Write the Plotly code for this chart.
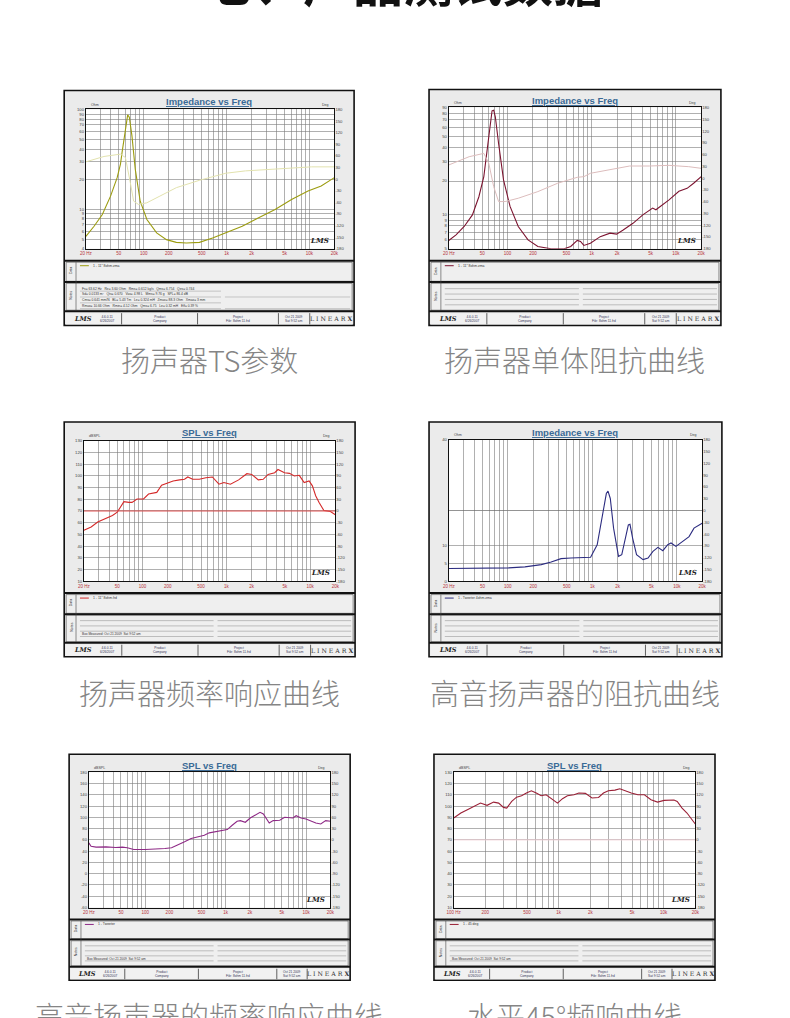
import math
import plotly.graph_objects as go

W, H = 790, 1018

# ---------------- data ----------------
# Panel 1: woofer impedance (TS parameters)
p1_freq = [20, 25.1, 31.6, 39.7, 47.7, 52.3, 54.7, 60, 63.9, 66.9, 71.9, 78.9, 84.1, 90.5, 109, 143,
           188, 247, 326, 470, 677, 976, 1543, 2437, 3850, 6082, 9610, 13860, 20000]
p1_ohm = [5.33, 6.73, 8.83, 13.5, 20.7, 28.3, 37.1, 63.8, 88.3, 83.7, 54.6, 25.2, 17.1, 12.0, 7.87, 5.77,
          4.94, 4.64, 4.57, 4.64, 5.13, 5.77, 6.73, 8.18, 9.93, 12.5, 15.2, 17.1, 20.7]
p1_ph_freq = [20, 33.1, 52.3, 60, 68.8, 75.4, 86.4, 108.7, 156.7, 247, 470, 976, 1690, 3207, 6082, 10530, 20000]
p1_phase = [44.7, 58.6, 64.6, 56.0, -9.1, -56.8, -65.5, -61.2, -43.8, -22.1, -3.0, 15.2, 21.3, 25.6, 29.9, 31.7, 31.7]

# Panel 2: driver impedance
p2_freq = [20, 24.4, 30.5, 38.2, 45.6, 52.2, 59.8, 65.4, 68.4, 71.5, 78.2, 89.5, 107, 134, 175, 229, 329, 470,
           563, 673, 736, 806, 964, 1262, 1652, 1975, 2364, 3092, 4047, 4842, 5297, 5793, 6934, 8297, 10870,
           13600, 16260, 20000]
p2_ohm = [5.93, 6.65, 7.89, 10.0, 14.5, 21.9, 49.5, 84.1, 85.2, 74.4, 43.1, 20.5, 11.9, 7.89, 6.0, 5.24, 5.0, 5.0,
          5.24, 5.93, 5.81, 5.35, 5.6, 6.41, 6.89, 6.75, 7.35, 8.42, 10.0, 11.1, 11.5, 11.1, 12.3, 13.6, 16.2,
          17.2, 19.1, 21.9]
p2_ph_freq = [20, 34.9, 52.2, 59.8, 68.4, 78.2, 93.6, 134, 229, 393, 673, 806, 964, 1652, 2826, 4842, 8297, 14210, 20000]
p2_phase = [33.5, 54.6, 63.1, 37.7, -21.6, -59.7, -59.7, -51.2, -34.3, -13.1, 2.1, 3.8, 12.3, 22.4, 30.9, 30.9, 32.6, 29.2, 25.0]

# Panel 3: driver SPL
p3_freq = [20, 24.4, 29.2, 35, 43.8, 50, 60, 68.7, 75, 86, 103, 118, 135, 148, 169, 193, 232, 277, 317, 347, 397,
           476, 570, 682, 817, 935, 1120, 1403, 1758, 2010, 2408, 2754, 3154, 3776, 4132, 4946, 5664, 6486, 7418,
           8492, 9720, 10640, 11640, 12740, 14590, 17460, 20000]
p3_spl = [53.6, 56.4, 60.6, 63.4, 66.2, 69.0, 78.0, 77.4, 77.4, 80.3, 80.3, 84.5, 85.3, 85.9, 92.1, 93.5, 95.7,
          96.6, 97.1, 99.1, 97.1, 97.1, 98.5, 99.1, 92.9, 94.3, 92.9, 96.6, 101.9, 101.3, 96.6, 97.1, 101.3, 102.7,
          105.5, 102.7, 102.2, 99.9, 100.5, 94.3, 95.7, 91.5, 83.1, 77.4, 70.4, 69.6, 66.8]
p3_ph_freq = [20, 20000]
p3_phase = [0, 0]

# Panel 4: tweeter impedance
p4_freq = [20, 41.7, 102, 159.5, 249, 326, 427, 558, 798, 955, 1143, 1307, 1467, 1535, 1634, 1787, 2043, 2234,
           2443, 2672, 2795, 3001, 3342, 3990, 4571, 5227, 5981, 6843, 7822, 8553, 9783, 11700, 13990, 16000,
           18290, 20000]
p4_ohm = [3.56, 3.56, 3.75, 4.03, 4.68, 5.43, 6.37, 6.56, 6.56, 6.74, 10.3, 17.8, 24.8, 25.5, 23.4, 15.0, 7.03,
          7.49, 12.2, 15.9, 16.1, 12.2, 7.49, 6.09, 6.56, 8.43, 9.55, 8.62, 10.3, 10.8, 9.84, 11.2, 12.6, 15.0,
          15.9, 16.4]
p4_ph_freq = [20, 20000]
p4_phase = [0, 0]

# Panel 5: tweeter SPL
p5_freq = [20, 21.3, 24.6, 32.6, 43.2, 52.1, 60, 72.3, 100.3, 146, 176, 213, 256, 309, 373, 450, 543, 625, 719,
           868, 1047, 1206, 1388, 1524, 1754, 2018, 2324, 2673, 2937, 3228, 3477, 3890, 4697, 5408, 6222, 6840,
           7503, 8635, 9950, 11450, 13180, 15170, 17460, 20000]
p5_spl = [54.7, 48.8, 47.1, 47.6, 46.5, 47.1, 45.9, 42.9, 42.9, 43.5, 44.7, 45.9, 50.6, 56.5, 62.4, 64.7, 68.2,
          72.4, 74.1, 75.3, 78.2, 85.9, 92.9, 94.1, 91.2, 98.8, 103.5, 108.8, 105.9, 95.9, 90.0, 94.1, 94.7,
          100.0, 98.8, 98.8, 102.9, 98.8, 97.1, 92.9, 90.0, 88.2, 94.1, 92.9]
p5_ph_freq = [20, 20000]
p5_phase = [0, 0]

# Panel 6: horizontal 45 degree response
p6_freq = [100, 117, 135, 156, 180, 208, 240, 268, 298, 320, 357, 397, 443, 493, 549, 612, 681, 759, 876, 975,
           1087, 1211, 1398, 1557, 1797, 2075, 2396, 2669, 2973, 3434, 3822, 4258, 4918, 5679, 6555, 7568, 8736,
           10090, 12530, 13460, 14970, 16680, 18580, 20000]
p6_spl = [89.4, 93.8, 96.8, 99.7, 102.6, 100.6, 103.5, 102.6, 98.8, 98.2, 104.1, 107.9, 109.1, 111.5, 113.5,
          111.5, 109.1, 110.0, 105.6, 102.6, 106.5, 109.1, 110.0, 111.5, 111.2, 107.1, 107.6, 111.5, 113.5, 114.1,
          115.3, 113.5, 111.5, 110.0, 110.0, 105.6, 103.5, 105.0, 105.3, 104.1, 98.2, 93.8, 87.9, 84.1]
p6_ph_freq = [100, 20000]
p6_phase = [0, 0]

# tick labels
X_TICKS_20 = [20, 50, 100, 200, 500, 1000, 2000, 5000, 10000, 20000]
X_TEXT_20 = ["20 Hz", "50", "100", "200", "500", "1k", "2k", "5k", "10k", "20k"]
X_TICKS_100 = [100, 200, 500, 1000, 2000, 5000, 10000, 20000]
X_TEXT_100 = ["100 Hz", "200", "500", "1k", "2k", "5k", "10k", "20k"]
OHM_TICKS_1 = [4, 5, 6, 7, 8, 9, 10, 20, 30, 40, 50, 60, 70, 80, 90, 100]
OHM_TICKS_2 = [5, 6, 7, 8, 9, 10, 20, 30, 40, 50, 60, 70, 80, 90]
OHM_TICKS_4 = [0, 5, 10, 40]
SPL_TICKS = [10, 20, 30, 40, 50, 60, 70, 80, 90, 100, 110, 120, 130]
SPL_TICKS_5 = [-60, -40, -20, 0, 20, 40, 60, 80, 100, 120, 140, 160, 180]
DEG_TICKS = [-180, -150, -120, -90, -60, -30, 0, 30, 60, 90, 120, 150, 180]

TITLE = "七、产品测试数据"
CAPTIONS = ["扬声器TS参数", "扬声器单体阻抗曲线", "扬声器频率响应曲线",
            "高音扬声器的阻抗曲线", "高音扬声器的频率响应曲线", "水平45°频响曲线"]

# ---------------- layout helpers (positions in page pixels) ----------------
F = "Liberation Sans, Arial, sans-serif"
CJK = "Noto Sans CJK SC, sans-serif"
GRID = "#7c7c7c"
shapes, annots = [], []


def X(p):
    return p / W


def Y(p):
    return 1 - p / H


def rect(x0, y0, x1, y1, fill=None, lc=None, lw=1.0, layer="below"):
    shapes.append(dict(type="rect", xref="paper", yref="paper", x0=X(x0), x1=X(x1), y0=Y(y1), y1=Y(y0),
                       fillcolor=fill or "rgba(0,0,0,0)",
                       line=dict(color=lc or "rgba(0,0,0,0)", width=lw if lc else 0), layer=layer))


def seg(x0, y0, x1, y1, color, lw, layer="above"):
    shapes.append(dict(type="line", xref="paper", yref="paper", x0=X(x0), x1=X(x1), y0=Y(y0), y1=Y(y1),
                       line=dict(color=color, width=lw), layer=layer))


def txt(x, y, s, size, color="#222", xa="center", ya="middle", family=F, angle=0, weight=None):
    font = dict(size=size, color=color, family=family)
    if weight:
        font["weight"] = weight
    annots.append(dict(xref="paper", yref="paper", x=X(x), y=Y(y), text=s, showarrow=False,
                       xanchor=xa, yanchor=ya, textangle=angle, font=font))


def minor_vals(lo, hi, major):
    out = []
    for e in range(0, 6):
        for m in range(1, 10):
            v = m * 10 ** e
            if lo <= v <= hi and v not in major:
                out.append(v)
    return out


panels = [
    dict(frame=(58, 88, 352, 324), plot=(80, 107, 332, 247), title="Impedance vs Freq", unit="Ohm",
         f=p1_freq, v=p1_ohm, pf=p1_ph_freq, pv=p1_phase, color="#9c9c10", pcolor="#e2e2ae",
         ytype="log", yr=[math.log10(4), 2], yt=OHM_TICKS_1, xr=(20, 20000), xt=(X_TICKS_20, X_TEXT_20),
         legend="1 - 11\" 8ohm.zma", notes="text"),
    dict(frame=(428, 87, 724, 324), plot=(448, 105, 704, 247), title="Impedance vs Freq", unit="Ohm",
         f=p2_freq, v=p2_ohm, pf=p2_ph_freq, pv=p2_phase, color="#7c1430", pcolor="#dcbcbc",
         ytype="log", yr=[math.log10(5), math.log10(90)], yt=OHM_TICKS_2, xr=(20, 20000),
         xt=(X_TICKS_20, X_TEXT_20), legend="1 - 11\" 8ohm.zma", notes="lines"),
    dict(frame=(58, 421, 353, 657), plot=(78, 440, 333, 581), title="SPL vs Freq", unit="dBSPL",
         f=p3_freq, v=p3_spl, pf=p3_ph_freq, pv=p3_phase, color="#d42a2a", pcolor="#e04e4e",
         ytype="linear", yr=[10, 130], yt=SPL_TICKS, xr=(20, 20000), xt=(X_TICKS_20, X_TEXT_20),
         legend="1 - 11\" 8ohm.frd", notes="lines+text"),
    dict(frame=(428, 421, 725, 657), plot=(448, 439, 705, 581), title="Impedance vs Freq", unit="Ohm",
         f=p4_freq, v=p4_ohm, pf=p4_ph_freq, pv=p4_phase, color="#2c2c80", pcolor="rgba(0,0,0,0)",
         ytype="linear", yr=[0, 40], yt=OHM_TICKS_4, xr=(20, 20000), xt=(X_TICKS_20, X_TEXT_20),
         legend="1 - Tweeter 4ohm.zma", notes="lines", yminor=[20]),
    dict(frame=(63, 755, 348, 982), plot=(83, 773, 328, 909), title="SPL vs Freq", unit="dBSPL",
         f=p5_freq, v=p5_spl, pf=p5_ph_freq, pv=p5_phase, color="#8e2a86", pcolor="rgba(0,0,0,0)",
         ytype="linear", yr=[-60, 180], yt=SPL_TICKS_5, xr=(20, 20000), xt=(X_TICKS_20, X_TEXT_20),
         legend="1 - Tweeter", notes="lines+text"),
    dict(frame=(433, 755, 718, 982), plot=(453, 773, 698, 909), title="SPL vs Freq", unit="dBSPL",
         f=p6_freq, v=p6_spl, pf=p6_ph_freq, pv=p6_phase, color="#9a2036", pcolor="#f0d0d6",
         ytype="linear", yr=[10, 130], yt=SPL_TICKS, xr=(100, 20000), xt=(X_TICKS_100, X_TEXT_100),
         legend="1 - 45 deg", notes="lines+text"),
]

fig = go.Figure()
layout = {}

for i, p in enumerate(panels):
    k = i + 1
    fx0, fy0, fx1, fy1 = p["frame"]
    px0, py0, px1, py1 = p["plot"]
    xname = "x" if k == 1 else f"x{k}"
    xkey = "xaxis" if k == 1 else f"xaxis{k}"
    yl, yr_ = 2 * k - 1, 2 * k
    ylname = "y" if yl == 1 else f"y{yl}"
    ylkey = "yaxis" if yl == 1 else f"yaxis{yl}"
    yrname, yrkey = f"y{yr_}", f"yaxis{yr_}"

    # panel background, plot background
    rect(fx0, fy0, fx1, fy1, fill="#ebebeb", lc="#111", lw=1.6)
    rect(px0, py0, px1, py1, fill="#ffffff")

    xt, xtt = p["xt"]
    layout[xkey] = dict(type="log", range=[math.log10(p["xr"][0]), math.log10(p["xr"][1])],
                        domain=[X(px0), X(px1)], anchor=ylname, tickmode="array", tickvals=xt, ticktext=xtt,
                        tickfont=dict(size=4.5, color="#b8343c", family=F), showgrid=True, gridcolor=GRID,
                        gridwidth=0.6,
                        minor=dict(tickvals=minor_vals(p["xr"][0], p["xr"][1], xt), showgrid=True,
                                   gridcolor=GRID, gridwidth=0.6, ticks=""),
                        showline=True, linecolor="#111", linewidth=1, mirror=True, ticks="", zeroline=False,
                        fixedrange=True)
    ydict = dict(type=p["ytype"], range=p["yr"], domain=[Y(py1), Y(py0)], anchor=xname, tickmode="array",
                 tickvals=p["yt"], ticktext=[str(v) for v in p["yt"]],
                 tickfont=dict(size=4.2, color="#444", family=F), showgrid=True, gridcolor=GRID,
                 gridwidth=0.6, showline=True, linecolor="#111", linewidth=1, mirror=True, ticks="",
                 zeroline=False, fixedrange=True)
    if p.get("yminor"):
        ydict["minor"] = dict(tickvals=p["yminor"], showgrid=True, gridcolor="#666", gridwidth=0.7, ticks="")
    layout[ylkey] = ydict
    layout[yrkey] = dict(overlaying=ylname, side="right", anchor=xname, range=[-180, 180], tickmode="array",
                         tickvals=DEG_TICKS, ticktext=[str(v) for v in DEG_TICKS],
                         tickfont=dict(size=4.2, color="#444", family=F), showgrid=False, zeroline=False,
                         showline=False, ticks="", fixedrange=True)

    fig.add_trace(go.Scatter(x=p["pf"], y=p["pv"], xaxis=xname, yaxis=yrname, mode="lines",
                             line=dict(color=p["pcolor"], width=1), showlegend=False, hoverinfo="skip"))
    fig.add_trace(go.Scatter(x=p["f"], y=p["v"], xaxis=xname, yaxis=ylname, mode="lines",
                             line=dict(color=p["color"], width=1.1), showlegend=False, hoverinfo="skip"))

    cx = (fx0 + fx1) / 2
    fw = fx1 - fx0
    # title
    txt(cx, fy0 + 11, "<b><u>" + p["title"] + "</u></b>", 9.5, color="#3a6a96")
    # unit labels
    txt(px0 + 3, py0 - 0.5, p["unit"], 3.6, color="#444", xa="left", ya="bottom")
    txt(px1 - 3, py0 - 0.5, "Deg", 3.6, color="#444", xa="right", ya="bottom")
    # LMS watermark
    txt(px1 - 3, py1 - 2, "<i><b>LMS</b></i>", 7, color="#222", xa="right", ya="bottom",
        family="DejaVu Serif, serif")

    # rows below the chart
    sep = py1 + 12
    R = fy1 - sep
    d_end = sep + 0.318 * R
    n_end = sep + 0.765 * R
    f_start = sep + 0.795 * R
    lx = fx0 + 12
    seg(fx0, sep, fx1, sep, "#111", 2)
    rect(fx0 + 2, sep + 1.5, fx1 - 2, d_end, fill="#efefef", lc="#444", lw=0.6, layer="above")
    seg(fx0, d_end + 0.8, fx1, d_end + 0.8, "#111", 2)
    rect(fx0 + 2, d_end + 2, fx1 - 2, n_end, fill="#efefef", lc="#444", lw=0.6, layer="above")
    seg(fx0, (n_end + f_start) / 2, fx1, (n_end + f_start) / 2, "#111", 2)
    seg(lx, sep + 1.5, lx, n_end, "#444", 0.6)
    txt(fx0 + 7, (sep + d_end) / 2, "Data", 3.5, color="#333", angle=-90)
    txt(fx0 + 7, (d_end + n_end) / 2, "Notes", 3.5, color="#333", angle=-90)

    # legend entry
    ly = sep + 5
    seg(lx + 4, ly, lx + 13, ly, p["color"], 1)
    txt(lx + 15, ly, p["legend"], 3.4, color="#333", xa="left")

    # notes area
    ny0 = d_end + 2
    nh = n_end - ny0
    mid = (lx + fx1) / 2
    if p["notes"] == "text":
        lines = ["Fs= 63.62 Hz   Re= 3.60 Ohm   Rms= 0.612 kg/s   Qms= 6.754   Qes= 0.744",
                 "Sd= 0.0133 m²   Qts= 0.670   Vas= 4.98 L   Mms= 9.76 g   SPL= 86.4 dB",
                 "Cms= 0.641 mm/N   BL= 5.43 Tm   Le= 0.324 mH   Zmax= 88.3 Ohm   Xmax= 3 mm",
                 "Rmax= 10.66 Ohm   Rmin= 4.52 Ohm   Qms= 6.75   Le= 0.32 mH   Eff= 0.39 %"]
        for j, s in enumerate(lines):
            yy = ny0 + nh * (j + 0.9) / 4.6
            txt(lx + 4, yy, s, 3.3, color="#333", xa="left")
            seg(lx + 4, yy + 2.6, mid + 6, yy + 2.6, "#999", 0.5)
        for j in (1, 3):
            yy = ny0 + nh * (j + 0.9) / 4.6 + 2.6
            seg(mid + 10, yy, fx1 - 4, yy, "#999", 0.5)
    else:
        for j in range(4):
            yy = ny0 + nh * (j + 1) / 5
            seg(lx + 4, yy, mid - 2, yy, "#9a9a9a", 0.6)
            seg(mid + 2, yy, fx1 - 4, yy, "#9a9a9a", 0.6)
        if "text" in p["notes"]:
            txt(lx + 4, ny0 + nh * 3.55 / 5, "Box Measured: Oct 21 2009  Sat 9:52 am", 3.2, color="#333",
                xa="left")

    # footer
    fy_a, fy_b = f_start + 1, fy1 - 1
    rect(fx0 + 1.5, fy_a, fx1 - 1.5, fy_b, fill="#f1f1f1", layer="above")
    fym = (fy_a + fy_b) / 2
    divs = [0.198, 0.46, 0.739, 0.847]
    for d in divs:
        seg(fx0 + d * fw, fy_a, fx0 + d * fw, fy_b, "#222", 0.7)
    txt(fx0 + 0.065 * fw, fym, "<i><b>LMS</b></i>", 6.5, color="#222", family="DejaVu Serif, serif")
    txt(fx0 + 0.115 * fw, fym, "4.6.0.11<br>6/26/2007", 3.2, color="#335", xa="left")
    txt(fx0 + 0.33 * fw, fym, "Product<br>Company", 3.2, color="#335")
    txt(fx0 + 0.60 * fw, fym, "Project<br>File: 8ohm 11.frd", 3.2, color="#335")
    txt(fx0 + 0.793 * fw, fym, "Oct 21 2009<br>Sat 9:52 am", 3.2, color="#335")
    txt(fx0 + 0.922 * fw, fym, "L I N E A R <b>X</b>", 6.2, color="#333", family="DejaVu Serif, serif")

# captions
cap_pos = [(205, 358), (576, 358), (205, 692), (576, 692), (205, 1017), (576, 1017)]
for (cxp, cyp), s in zip(cap_pos, CAPTIONS):
    txt(cxp, cyp, s, 29, color="#858585", family=CJK, weight=300)

# top title, mostly cut off by the page edge
txt(402, -23, "<b>" + TITLE + "</b>", 50, color="#111", family=CJK)

fig.update_layout(width=W, height=H, margin=dict(l=0, r=0, t=0, b=0), paper_bgcolor="white",
                  plot_bgcolor="rgba(0,0,0,0)", shapes=shapes, annotations=annots, showlegend=False,
                  **layout)
fig.write_html("out.html", config={"displayModeBar": False, "staticPlot": True},
               post_script="document.body.style.margin='0px';")
